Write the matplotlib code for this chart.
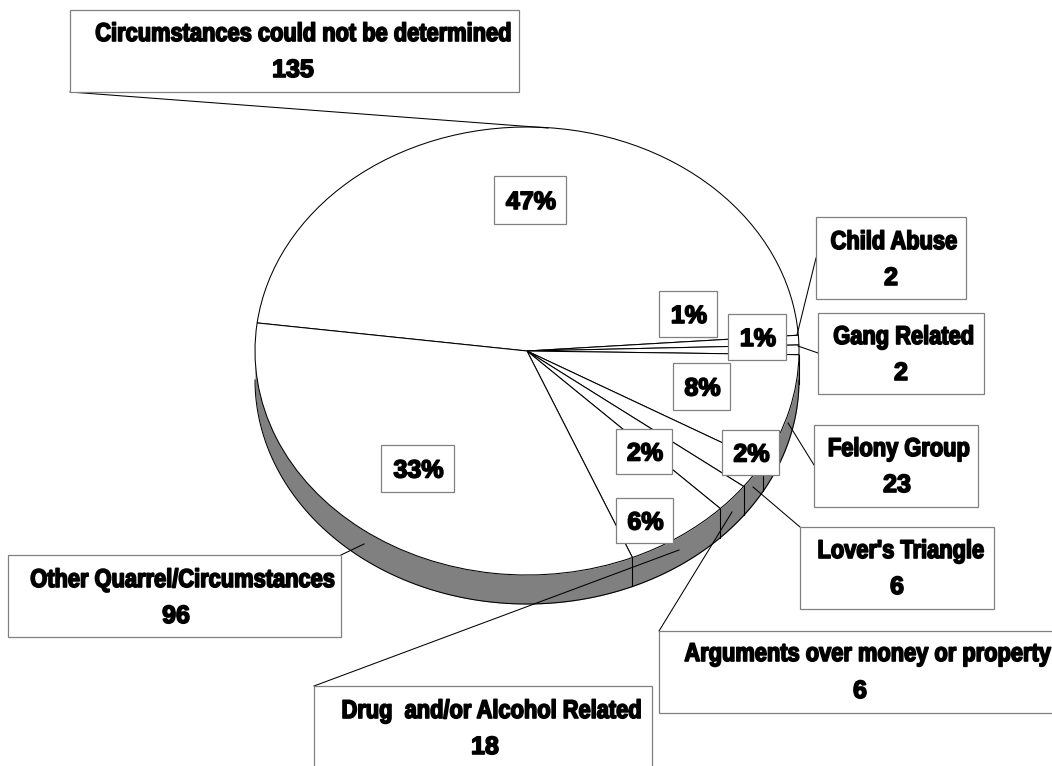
import numpy as np
import matplotlib
matplotlib.use("Agg")
import matplotlib.pyplot as plt
from matplotlib.patches import Rectangle
from matplotlib.transforms import Affine2D
import matplotlib.patheffects as pe

categories = ["Circumstances could not be determined", "Child Abuse", "Gang Related",
              "Felony Group", "Lover's Triangle", "Arguments over money or property",
              "Drug  and/or Alcohol Related", "Other Quarrel/Circumstances"]
counts = [135, 2, 2, 23, 6, 6, 18, 96]

# layout, all in pixels of the 1052x766 picture
W, H = 1052, 766
cx, cy, rx, ry = 527, 351, 272, 224
depth = 29
start = 172.8
name_boxes = [(70, 10, 519, 92), (816, 217, 966, 299), (818, 313, 984, 394), (814, 425, 978, 507),
              (800, 527, 994, 609), (659, 631, 1060, 713), (314, 686, 652, 772), (8, 555, 341, 637)]
name_xy = [(304, 34), (894, 242), (904, 337), (899, 449), (901, 551), (1052, 654), (492, 711), (183, 580)]
count_xy = [(293, 70), (891, 278), (901, 373), (897, 485), (897, 587), (860, 691), (485, 747), (176, 616)]
pct_boxes = [(494, 176, 566, 224), (659, 291, 717, 337), (728, 314, 786, 360), (673, 363, 730, 410),
             (722, 430, 779, 475), (616, 429, 672, 474), (616, 498, 673, 543), (381, 445, 454, 492)]
leaders = [((70, 92), (548, 128)), ((816, 258), (797, 335)), ((818, 353), (798, 346)),
           ((814, 465), (788, 423)), ((800, 527), (753, 487)), ((659, 631), (732, 512)),
           ((314, 686), (679, 550)), ((341, 555), (364, 544))]

plt.rcParams['font.family'] = ['Liberation Sans', 'DejaVu Sans']


class Condensed(pe.AbstractPathEffect):
    # no condensed heavy font is installed, so squeeze the glyphs sideways and fatten them
    def __init__(self, sx=1.0, anchor=0.5, stroke=1.2):
        super().__init__()
        self.sx = sx
        self.anchor = anchor
        self.stroke = stroke

    def draw_path(self, renderer, gc, tpath, affine, rgbFace=None):
        ext = tpath.get_extents()
        pivot = ext.x0 + self.anchor * ext.width
        squeeze = Affine2D().translate(-pivot, 0).scale(self.sx, 1).translate(pivot, 0)
        gc0 = renderer.new_gc()
        gc0.copy_properties(gc)
        gc0.set_linewidth(self.stroke)
        gc0.set_foreground('black')
        renderer.draw_path(gc0, tpath, squeeze + affine, rgbFace)
        gc0.restore()


fig = plt.figure(figsize=(W / 100, H / 100), dpi=100, facecolor='white')

# pie axes: the unit circle lands on the ellipse of the top face
ax = fig.add_axes([(cx - rx) / W, (H - cy - ry) / H, 2 * rx / W, 2 * ry / H])
ax.pie(counts, startangle=start, counterclock=False, colors=['white'] * len(counts),
       wedgeprops=dict(edgecolor='black', linewidth=0.75, clip_on=False, zorder=3))
ax.set_aspect('auto')
ax.set_xlim(-1, 1)
ax.set_ylim(-1, 1)

# side wall of the pie, only the lower half of the rim shows
d = depth / ry
angle = start
for c in counts:
    end = angle - 360.0 * c / sum(counts)
    for off in (0, -360):
        a0, a1 = angle + off, end + off
        lo, hi = max(a1, -180), min(a0, 0)
        if hi > lo:
            t = np.radians(np.linspace(lo, hi, 80))
            ax.fill_between(np.cos(t), np.sin(t), np.sin(t) - d, color='#808080', lw=0, clip_on=False, zorder=1)
            for b in (a0, a1):
                if -180 < b < 0:
                    bx, by = np.cos(np.radians(b)), np.sin(np.radians(b))
                    ax.plot([bx, bx], [by, by - d], color='black', lw=0.75, clip_on=False, zorder=2)
            ax.plot(np.cos(t), np.sin(t) - d, color='black', lw=0.75, clip_on=False, zorder=2)
    angle = end

# overlay axes in pixel coordinates for callouts
ov = fig.add_axes([0, 0, 1, 1])
ov.set_xlim(0, W)
ov.set_ylim(H, 0)
ov.axis('off')


def bold(x, y, s, sx=1.0, ha='center', size=18):
    anchor = 1.0 if ha == 'right' else 0.5
    ov.text(x, y, s, ha=ha, va='center', fontsize=size, fontweight='bold', color='black',
            path_effects=[Condensed(sx, anchor)], zorder=6)


def box(b):
    ov.add_patch(Rectangle((b[0], b[1]), b[2] - b[0], b[3] - b[1], facecolor='white',
                           edgecolor='#808080', linewidth=0.9, zorder=5))


for (p0, p1) in leaders:
    ov.plot([p0[0], p1[0]], [p0[1], p1[1]], color='black', lw=0.75, zorder=4)

for i, name in enumerate(categories):
    box(name_boxes[i])
    # the long line that runs up to the picture edge hangs from its right end
    bold(name_xy[i][0], name_xy[i][1], name, sx=0.85, size=18.5, ha='right' if i == 5 else 'center')
    bold(count_xy[i][0], count_xy[i][1], str(counts[i]))
    box(pct_boxes[i])
    pb = pct_boxes[i]
    bold((pb[0] + pb[2]) / 2 + 1, (pb[1] + pb[3]) / 2 + 2, "%d%%" % round(100.0 * counts[i] / sum(counts)))

fig.savefig('out.png', dpi=100)
